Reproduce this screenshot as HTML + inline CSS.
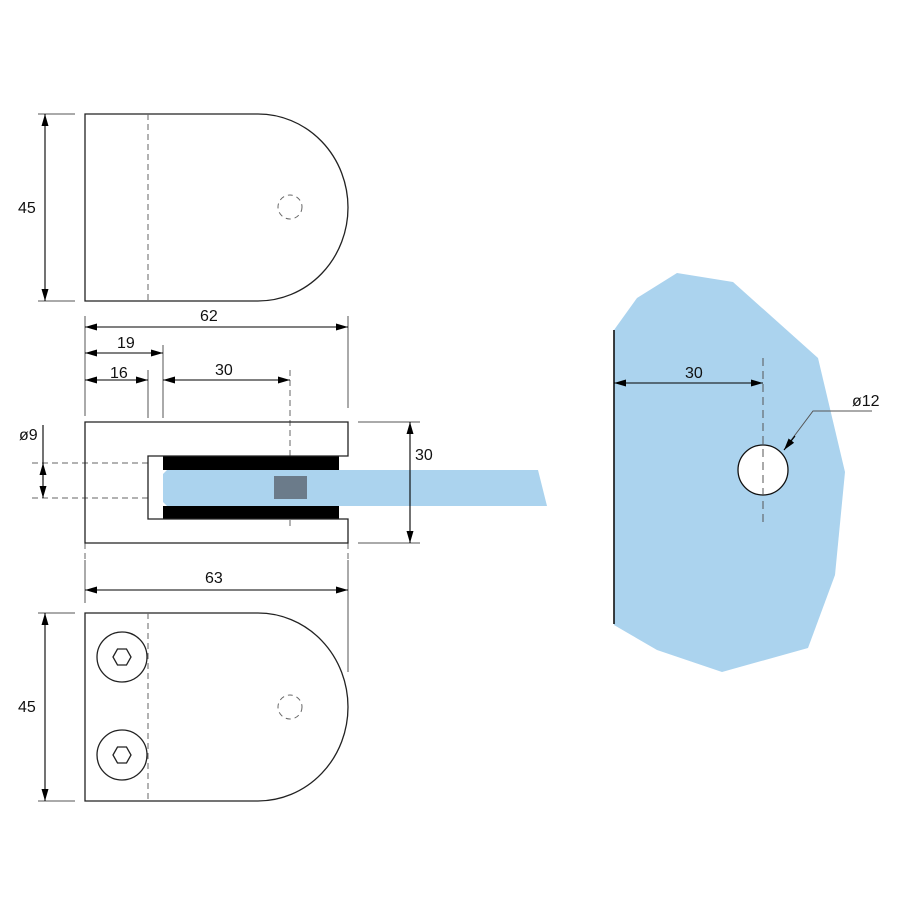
<!DOCTYPE html>
<html><head><meta charset="utf-8"><style>body{margin:0;background:#fff}svg{display:block}text{font-family:"Liberation Sans",sans-serif;font-size:16px;fill:#111}</style></head><body>
<svg width="900" height="900" viewBox="0 0 900 900" xmlns="http://www.w3.org/2000/svg">
<defs>
<marker id="a" viewBox="0 0 12 7" refX="12" refY="3.5" markerWidth="12" markerHeight="7" orient="auto-start-reverse" markerUnits="userSpaceOnUse"><path d="M0,0L12,3.5L0,7z" fill="#000"/></marker>
</defs>
<g fill="none" stroke="#222" stroke-width="1.3">
<path d="M85,114H258A90,93.5 0 0 1 258,301H85Z"/>
<path d="M85,613H258A90,94 0 0 1 258,801H85Z"/>
<circle cx="122" cy="657" r="25"/><circle cx="122" cy="755" r="25"/>
<path d="M113,657l4.5,-8h9l4.5,8l-4.5,8h-9z"/>
<path d="M113,755l4.5,-8h9l4.5,8l-4.5,8h-9z"/>
</g>
<g fill="none" stroke="#666" stroke-width="1" stroke-dasharray="6,4">
<line x1="148" y1="114" x2="148" y2="301"/>
<line x1="148" y1="613" x2="148" y2="801"/>
<line x1="32" y1="463" x2="148" y2="463"/><line x1="32" y1="498" x2="148" y2="498"/>
<line x1="290" y1="370" x2="290" y2="530"/>
<line x1="85" y1="543" x2="85" y2="560"/><line x1="348" y1="543" x2="348" y2="560"/>
</g>
<g fill="none" stroke="#666" stroke-width="1" stroke-dasharray="5,4">
<circle cx="290" cy="207" r="12"/><circle cx="290" cy="707" r="12"/>
</g>
<path d="M167,470H538L547,506H167L163,502V474Z" fill="#abd3ee"/>
<rect x="163" y="456" width="176" height="14" fill="#000"/>
<rect x="163" y="506" width="176" height="13" fill="#000"/>
<rect x="274" y="476" width="33" height="23" fill="#6b7b8a"/>
<path d="M85,422H348V456H148V519H348V543H85Z" fill="none" stroke="#222" stroke-width="1.3"/>
<path d="M614,330L637,298L677,273L733,282L818,358L845,472L835,575L808,648L722,672L657,650L614,625Z" fill="#abd3ee"/>
<line x1="614" y1="330" x2="614" y2="624" stroke="#111" stroke-width="1.6"/>
<circle cx="763" cy="470" r="25" fill="#fff" stroke="#111" stroke-width="1.3"/>
<line x1="763" y1="358" x2="763" y2="525" stroke="#555" stroke-dasharray="8,5"/>
<g stroke="#555" stroke-width="1" fill="none">
<line x1="38" y1="114" x2="75" y2="114"/><line x1="38" y1="301" x2="75" y2="301"/>
<line x1="38" y1="613" x2="75" y2="613"/><line x1="38" y1="801" x2="75" y2="801"/>
<line x1="85" y1="316" x2="85" y2="416"/><line x1="348" y1="316" x2="348" y2="408"/>
<line x1="148" y1="370" x2="148" y2="418"/><line x1="163" y1="345" x2="163" y2="418"/>
<line x1="358" y1="422" x2="420" y2="422"/><line x1="358" y1="543" x2="420" y2="543"/>
<line x1="85" y1="560" x2="85" y2="603"/><line x1="348" y1="560" x2="348" y2="672"/>
<path d="M872,411H813L786,447"/>
</g>
<g stroke="#000" stroke-width="1.1" fill="none">
<line x1="45" y1="114" x2="45" y2="301" marker-start="url(#a)" marker-end="url(#a)"/>
<line x1="45" y1="613" x2="45" y2="801" marker-start="url(#a)" marker-end="url(#a)"/>
<line x1="85" y1="327" x2="348" y2="327" marker-start="url(#a)" marker-end="url(#a)"/>
<line x1="85" y1="353" x2="163" y2="353" marker-start="url(#a)" marker-end="url(#a)"/>
<line x1="85" y1="380" x2="148" y2="380" marker-start="url(#a)" marker-end="url(#a)"/>
<line x1="163" y1="380" x2="290" y2="380" marker-start="url(#a)" marker-end="url(#a)"/>
<line x1="85" y1="590" x2="348" y2="590" marker-start="url(#a)" marker-end="url(#a)"/>
<line x1="410" y1="422" x2="410" y2="543" marker-start="url(#a)" marker-end="url(#a)"/>
<line x1="43" y1="425" x2="43" y2="480"/>
<line x1="43" y1="480" x2="43" y2="463" marker-end="url(#a)"/>
<line x1="43" y1="480" x2="43" y2="498" marker-end="url(#a)"/>
<line x1="614" y1="383" x2="763" y2="383" marker-start="url(#a)" marker-end="url(#a)"/>
<line x1="795" y1="436" x2="784" y2="450" marker-end="url(#a)"/>
</g>
<text x="18" y="213">45</text>
<text x="18" y="712">45</text>
<text x="200" y="321">62</text>
<text x="117" y="348">19</text>
<text x="110" y="378">16</text>
<text x="215" y="375">30</text>
<text x="19" y="440">ø9</text>
<text x="415" y="460">30</text>
<text x="205" y="583">63</text>
<text x="685" y="378">30</text>
<text x="852" y="406">ø12</text>
</svg>
</body></html>
